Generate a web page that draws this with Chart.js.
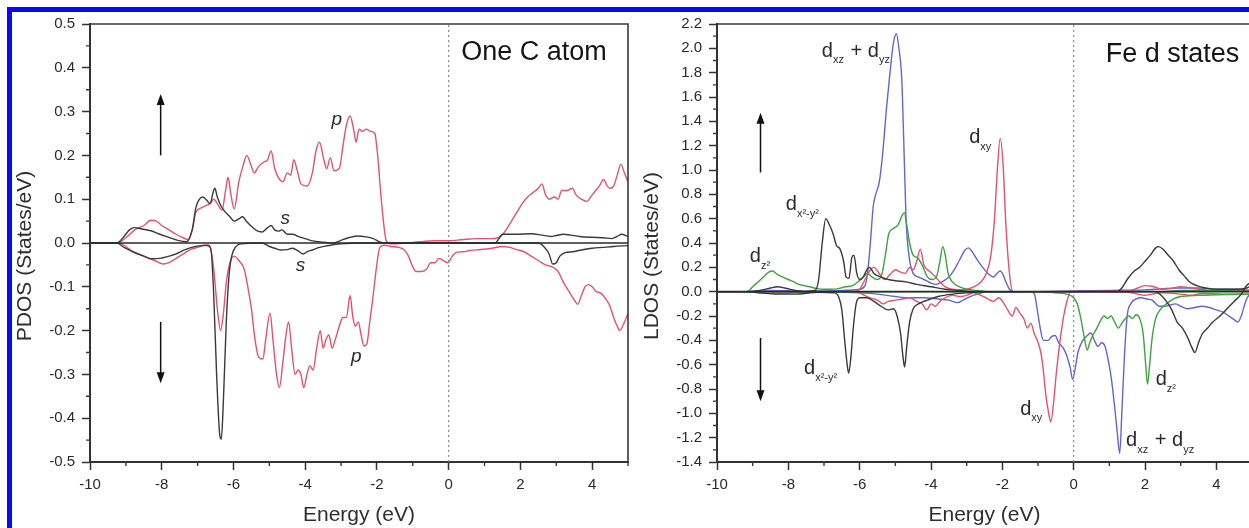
<!DOCTYPE html>
<html>
<head>
<meta charset="utf-8">
<script src="https://cdn.jsdelivr.net/npm/chart.js@4.4.1/dist/chart.umd.min.js"></script>
<style>
  html, body { margin: 0; padding: 0; background: #fff; overflow: hidden; }
  #page { position: relative; width: 1249px; height: 528px; overflow: hidden; background: #fff; }
  #frame { position: absolute; left: 7px; top: 7px; width: 1400px; height: 700px;
           border-left: 5px solid #0a0af0; border-top: 5px solid #0a0af0; }
  canvas { position: absolute; top: 0; }
  #pdosChart { left: 0; }
  #ldosChart { left: 620px; }
</style>
</head>
<body>
<div id="page">
  <div id="frame"></div>
  <canvas id="pdosChart" width="640" height="528"></canvas>
  <canvas id="ldosChart" width="640" height="528"></canvas>
</div>
<script>
'use strict';

// --- axis ticks ---
const energyTicks = [-10, -8, -6, -4, -2, 0, 2, 4];
const energyMinor = [-9, -7, -5, -3, -1, 1, 3, 5];
const pdosTicks = [-0.5, -0.4, -0.3, -0.2, -0.1, 0, 0.1, 0.2, 0.3, 0.4, 0.5];
const pdosMinor = [-0.45, -0.35, -0.25, -0.15, -0.05, 0.05, 0.15, 0.25, 0.35, 0.45];
const ldosTicks = [-1.4, -1.2, -1.0, -0.8, -0.6, -0.4, -0.2, 0, 0.2, 0.4, 0.6, 0.8, 1.0, 1.2, 1.4, 1.6, 1.8, 2.0, 2.2];
const ldosMinor = [-1.3, -1.1, -0.9, -0.7, -0.5, -0.3, -0.1, 0.1, 0.3, 0.5, 0.7, 0.9, 1.1, 1.3, 1.5, 1.7, 1.9, 2.1];

// --- C atom PDOS, [energy, states/eV] ---
const pUp = [[-10,0],[-9.25,0],[-9.0,0.012],[-8.75,0.03],[-8.5,0.04],[-8.3,0.052],[-8.15,0.05],[-8.0,0.04],[-7.8,0.03],[-7.6,0.02],[-7.4,0.012],[-7.28,0.008],[-7.15,0.03],[-7.05,0.07],[-6.9,0.08],[-6.78,0.085],[-6.65,0.09],[-6.55,0.1],[-6.45,0.09],[-6.32,0.075],[-6.22,0.12],[-6.15,0.15],[-6.07,0.11],[-5.98,0.078],[-5.85,0.14],[-5.72,0.18],[-5.63,0.2],[-5.52,0.18],[-5.42,0.16],[-5.3,0.175],[-5.15,0.185],[-5.05,0.19],[-4.95,0.21],[-4.85,0.17],[-4.75,0.15],[-4.62,0.14],[-4.5,0.16],[-4.4,0.155],[-4.32,0.19],[-4.22,0.165],[-4.12,0.135],[-3.95,0.13],[-3.8,0.16],[-3.7,0.21],[-3.6,0.23],[-3.48,0.19],[-3.4,0.17],[-3.3,0.195],[-3.2,0.165],[-3.05,0.17],[-2.95,0.22],[-2.85,0.27],[-2.75,0.29],[-2.65,0.26],[-2.58,0.23],[-2.5,0.26],[-2.4,0.255],[-2.3,0.26],[-2.18,0.255],[-2.06,0.25],[-1.98,0.2],[-1.9,0.12],[-1.82,0.05],[-1.74,0.005],[-1.6,-0.002],[-1.2,0.0],[-0.8,0.003],[-0.4,0.005],[0,0.005],[0.4,0.008],[0.8,0.01],[1.2,0.01],[1.45,0.015],[1.6,0.03],[1.75,0.05],[1.9,0.07],[2.05,0.09],[2.2,0.105],[2.35,0.115],[2.5,0.125],[2.6,0.135],[2.7,0.11],[2.8,0.1],[2.95,0.105],[3.05,0.1],[3.15,0.12],[3.3,0.12],[3.45,0.125],[3.55,0.11],[3.7,0.1],[3.85,0.095],[4.0,0.11],[4.1,0.12],[4.2,0.13],[4.32,0.145],[4.42,0.13],[4.5,0.125],[4.6,0.13],[4.7,0.155],[4.8,0.18],[4.9,0.16],[5.0,0.14]];
const pDown = [[-10,0],[-9.2,0],[-9.0,-0.008],[-8.8,-0.02],[-8.5,-0.03],[-8.2,-0.04],[-7.95,-0.048],[-7.8,-0.045],[-7.6,-0.035],[-7.4,-0.025],[-7.2,-0.015],[-7.0,-0.01],[-6.8,-0.005],[-6.65,-0.01],[-6.55,-0.06],[-6.45,-0.15],[-6.36,-0.2],[-6.28,-0.16],[-6.2,-0.09],[-6.1,-0.045],[-5.98,-0.03],[-5.85,-0.04],[-5.7,-0.06],[-5.6,-0.1],[-5.5,-0.15],[-5.4,-0.22],[-5.3,-0.26],[-5.18,-0.265],[-5.1,-0.22],[-4.98,-0.16],[-4.9,-0.22],[-4.8,-0.3],[-4.72,-0.33],[-4.62,-0.27],[-4.52,-0.2],[-4.46,-0.18],[-4.38,-0.24],[-4.28,-0.3],[-4.2,-0.29],[-4.12,-0.3],[-4.04,-0.33],[-3.95,-0.3],[-3.87,-0.28],[-3.78,-0.29],[-3.68,-0.24],[-3.58,-0.2],[-3.5,-0.24],[-3.42,-0.22],[-3.34,-0.21],[-3.25,-0.24],[-3.16,-0.22],[-3.05,-0.19],[-2.95,-0.17],[-2.85,-0.17],[-2.75,-0.12],[-2.67,-0.17],[-2.6,-0.19],[-2.52,-0.18],[-2.44,-0.21],[-2.36,-0.235],[-2.28,-0.23],[-2.2,-0.18],[-2.12,-0.13],[-2.02,-0.06],[-1.92,-0.01],[-1.8,-0.005],[-1.6,-0.008],[-1.4,-0.01],[-1.25,-0.015],[-1.12,-0.03],[-1.0,-0.055],[-0.9,-0.065],[-0.75,-0.065],[-0.62,-0.06],[-0.5,-0.045],[-0.38,-0.045],[-0.28,-0.035],[-0.15,-0.04],[-0.03,-0.045],[0.1,-0.03],[0.2,-0.022],[0.4,-0.02],[0.6,-0.017],[0.9,-0.015],[1.2,-0.012],[1.5,-0.008],[1.7,-0.01],[1.9,-0.015],[2.1,-0.02],[2.3,-0.03],[2.5,-0.04],[2.7,-0.05],[2.9,-0.055],[3.05,-0.065],[3.2,-0.09],[3.35,-0.11],[3.5,-0.13],[3.6,-0.14],[3.7,-0.12],[3.8,-0.1],[3.9,-0.095],[4.0,-0.1],[4.1,-0.11],[4.25,-0.115],[4.4,-0.13],[4.5,-0.145],[4.6,-0.17],[4.7,-0.19],[4.77,-0.2],[4.85,-0.19],[4.93,-0.175],[5.0,-0.16]];
const sUp = [[-10,0],[-9.25,0],[-9.05,0.015],[-8.9,0.03],[-8.75,0.035],[-8.55,0.032],[-8.3,0.028],[-8.05,0.02],[-7.8,0.013],[-7.55,0.006],[-7.3,0.003],[-7.15,0.03],[-7.05,0.08],[-6.95,0.1],[-6.85,0.105],[-6.75,0.098],[-6.65,0.09],[-6.57,0.115],[-6.52,0.125],[-6.45,0.105],[-6.35,0.085],[-6.22,0.07],[-6.1,0.06],[-5.98,0.05],[-5.85,0.055],[-5.75,0.06],[-5.62,0.048],[-5.5,0.038],[-5.35,0.028],[-5.2,0.025],[-5.05,0.035],[-4.95,0.04],[-4.85,0.03],[-4.75,0.027],[-4.65,0.03],[-4.5,0.02],[-4.35,0.02],[-4.2,0.015],[-4.0,0.01],[-3.8,0.005],[-3.5,0.002],[-3.2,0.0],[-3.0,0.006],[-2.8,0.012],[-2.55,0.016],[-2.3,0.014],[-2.1,0.01],[-1.9,0.002],[-1.7,0.0],[1.3,0.0],[1.4,0.01],[1.5,0.02],[1.9,0.02],[2.3,0.021],[2.6,0.018],[2.85,0.015],[3.0,0.017],[3.2,0.02],[3.4,0.018],[3.65,0.015],[4.0,0.013],[4.3,0.012],[4.55,0.01],[4.7,0.015],[4.82,0.02],[5.0,0.015]];
const sDown = [[-10,0],[-9.25,0],[-9.05,-0.01],[-8.8,-0.02],[-8.5,-0.03],[-8.3,-0.036],[-8.05,-0.035],[-7.8,-0.03],[-7.6,-0.025],[-7.4,-0.017],[-7.17,-0.01],[-6.9,-0.006],[-6.7,-0.005],[-6.62,-0.02],[-6.55,-0.12],[-6.47,-0.3],[-6.38,-0.44],[-6.34,-0.448],[-6.29,-0.38],[-6.2,-0.18],[-6.12,-0.07],[-6.05,-0.03],[-5.95,-0.01],[-5.8,-0.002],[-5.2,0.0],[-5.0,-0.008],[-4.85,-0.012],[-4.7,-0.016],[-4.5,-0.015],[-4.35,-0.012],[-4.2,-0.018],[-4.05,-0.025],[-3.95,-0.02],[-3.8,-0.016],[-3.6,-0.01],[-3.3,-0.005],[-3.0,-0.002],[-2.5,0],[2.5,0.0],[2.65,-0.008],[2.8,-0.025],[2.9,-0.048],[3.0,-0.045],[3.1,-0.03],[3.25,-0.022],[3.45,-0.02],[3.7,-0.016],[4.0,-0.012],[4.3,-0.01],[4.6,-0.008],[5.0,-0.006]];

// --- Fe d LDOS, [energy, states/eV] ---
const dxzUp = [[-10,0],[-9.2,0],[-8.5,0.01],[-7.5,0.005],[-6.5,0.01],[-6.0,0.02],[-5.85,0.05],[-5.78,0.15],[-5.7,0.4],[-5.62,0.7],[-5.55,0.8],[-5.45,0.9],[-5.35,1.15],[-5.25,1.5],[-5.15,1.8],[-5.05,2.05],[-4.97,2.12],[-4.9,2.0],[-4.82,1.75],[-4.76,1.2],[-4.7,0.6],[-4.62,0.3],[-4.5,0.15],[-4.35,0.12],[-4.2,0.1],[-4.0,0.07],[-3.85,0.06],[-3.7,0.08],[-3.5,0.12],[-3.35,0.18],[-3.2,0.26],[-3.05,0.34],[-2.95,0.36],[-2.85,0.33],[-2.7,0.26],[-2.55,0.2],[-2.4,0.15],[-2.25,0.12],[-2.15,0.15],[-2.06,0.17],[-1.98,0.14],[-1.9,0.08],[-1.8,0.02],[-1.7,0.0],[-1.0,0.0],[0,0.005],[1.0,0.01],[2.0,0.015],[3.0,0.03],[3.5,0.03],[4.0,0.02],[4.5,0.02],[5.0,0.01]];
const dxzDown = [[-10,0],[-8,0],[-6.5,-0.005],[-6.0,-0.01],[-5.5,-0.02],[-5.0,-0.04],[-4.6,-0.05],[-4.2,-0.05],[-3.8,-0.06],[-3.5,-0.07],[-3.25,-0.09],[-3.1,-0.07],[-2.9,-0.04],[-2.7,-0.02],[-2.5,-0.005],[-1.2,0],[-1.1,-0.02],[-1.02,-0.15],[-0.95,-0.28],[-0.85,-0.4],[-0.72,-0.4],[-0.62,-0.37],[-0.52,-0.36],[-0.42,-0.42],[-0.3,-0.46],[-0.2,-0.52],[-0.1,-0.62],[-0.03,-0.72],[0.05,-0.62],[0.12,-0.5],[0.22,-0.42],[0.35,-0.37],[0.48,-0.34],[0.58,-0.4],[0.68,-0.45],[0.78,-0.42],[0.88,-0.45],[0.96,-0.55],[1.05,-0.7],[1.15,-0.95],[1.22,-1.15],[1.29,-1.33],[1.35,-1.0],[1.42,-0.55],[1.5,-0.2],[1.6,-0.1],[1.75,-0.06],[1.9,-0.05],[2.05,-0.06],[2.2,-0.07],[2.4,-0.12],[2.55,-0.12],[2.7,-0.11],[2.85,-0.1],[3.0,-0.12],[3.2,-0.14],[3.4,-0.13],[3.6,-0.12],[3.8,-0.13],[4.0,-0.15],[4.2,-0.17],[4.35,-0.2],[4.5,-0.23],[4.6,-0.25],[4.7,-0.2],[4.78,-0.12],[4.85,-0.06],[5.0,0.0]];
const dxyUp = [[-10,0],[-6.2,0],[-6.0,0.02],[-5.85,0.1],[-5.7,0.18],[-5.6,0.2],[-5.45,0.15],[-5.3,0.1],[-5.15,0.14],[-5.0,0.18],[-4.85,0.16],[-4.72,0.15],[-4.6,0.2],[-4.5,0.18],[-4.4,0.25],[-4.3,0.35],[-4.2,0.22],[-4.05,0.17],[-3.9,0.13],[-3.75,0.08],[-3.6,0.04],[-3.4,0.02],[-3.2,0.015],[-3.0,0.02],[-2.8,0.04],[-2.6,0.08],[-2.45,0.15],[-2.32,0.3],[-2.22,0.6],[-2.14,1.0],[-2.06,1.26],[-1.98,1.05],[-1.9,0.55],[-1.8,0.15],[-1.7,0.0],[-1.0,0],[1.5,0.005],[1.8,0.03],[2.0,0.05],[2.2,0.045],[2.5,0.02],[2.8,0.03],[3.0,0.04],[3.2,0.035],[3.5,0.02],[4.0,0.01],[5.0,0.01]];
const dxyDown = [[-10,0],[-6.2,0],[-6.0,-0.01],[-5.8,-0.04],[-5.6,-0.06],[-5.45,-0.08],[-5.35,-0.1],[-5.2,-0.08],[-5.0,-0.07],[-4.8,-0.06],[-4.6,-0.05],[-4.4,-0.08],[-4.25,-0.1],[-4.12,-0.15],[-4.0,-0.1],[-3.88,-0.12],[-3.75,-0.08],[-3.6,-0.05],[-3.4,-0.03],[-3.2,-0.04],[-3.0,-0.03],[-2.8,-0.01],[-2.6,-0.03],[-2.4,-0.06],[-2.25,-0.08],[-2.1,-0.05],[-1.95,-0.1],[-1.85,-0.15],[-1.72,-0.2],[-1.62,-0.13],[-1.5,-0.18],[-1.4,-0.22],[-1.3,-0.3],[-1.2,-0.26],[-1.1,-0.35],[-1.02,-0.4],[-0.92,-0.5],[-0.85,-0.65],[-0.78,-0.85],[-0.7,-1.0],[-0.64,-1.07],[-0.56,-0.9],[-0.48,-0.65],[-0.38,-0.4],[-0.28,-0.2],[-0.18,-0.07],[-0.08,0],[0.5,0],[1.5,-0.005],[1.8,-0.02],[2.0,-0.03],[2.2,-0.02],[2.5,-0.01],[3.0,-0.02],[3.3,-0.03],[3.6,-0.015],[4.2,-0.02],[5.0,-0.02]];
const dz2Up = [[-10,0],[-9.15,0],[-9.0,0.04],[-8.85,0.08],[-8.7,0.12],[-8.55,0.16],[-8.45,0.17],[-8.3,0.14],[-8.15,0.12],[-8.0,0.1],[-7.85,0.08],[-7.7,0.06],[-7.55,0.05],[-7.4,0.04],[-7.2,0.025],[-7.0,0.02],[-6.8,0.02],[-6.6,0.025],[-6.4,0.04],[-6.2,0.05],[-6.05,0.08],[-5.9,0.12],[-5.78,0.15],[-5.65,0.12],[-5.5,0.1],[-5.38,0.14],[-5.28,0.3],[-5.18,0.48],[-5.05,0.52],[-4.92,0.55],[-4.82,0.62],[-4.75,0.65],[-4.68,0.55],[-4.6,0.4],[-4.5,0.3],[-4.38,0.28],[-4.25,0.22],[-4.1,0.12],[-3.95,0.1],[-3.85,0.12],[-3.75,0.25],[-3.67,0.37],[-3.6,0.3],[-3.52,0.15],[-3.4,0.08],[-3.2,0.04],[-3.0,0.02],[-2.7,0.01],[-2.4,0],[2.5,0],[3.0,0.01],[4.0,0.01],[5.0,0.0]];
const dz2Down = [[-10,0],[-9.2,0],[-8.8,-0.01],[-8.3,-0.015],[-7.8,-0.01],[-7.0,-0.005],[-6.0,-0.003],[-4.0,0],[-1.0,0],[-0.5,-0.01],[-0.2,-0.02],[0,-0.05],[0.1,-0.1],[0.2,-0.22],[0.3,-0.38],[0.38,-0.48],[0.45,-0.42],[0.55,-0.35],[0.65,-0.3],[0.75,-0.24],[0.85,-0.2],[0.95,-0.22],[1.05,-0.2],[1.15,-0.25],[1.25,-0.3],[1.35,-0.26],[1.45,-0.22],[1.55,-0.2],[1.65,-0.22],[1.75,-0.19],[1.85,-0.22],[1.95,-0.35],[2.02,-0.6],[2.07,-0.76],[2.13,-0.6],[2.2,-0.38],[2.3,-0.22],[2.45,-0.14],[2.6,-0.1],[2.8,-0.06],[3.0,-0.04],[3.5,-0.03],[4.0,-0.025],[5.0,-0.02]];
const dx2Up = [[-10,0],[-9.2,0],[-8.8,0.01],[-8.5,0.03],[-8.3,0.04],[-8.1,0.03],[-7.8,0.01],[-7.5,0.0],[-7.25,0.01],[-7.15,0.1],[-7.05,0.4],[-6.95,0.6],[-6.85,0.55],[-6.75,0.48],[-6.65,0.38],[-6.55,0.35],[-6.45,0.25],[-6.38,0.12],[-6.3,0.11],[-6.22,0.28],[-6.16,0.3],[-6.08,0.15],[-6.0,0.1],[-5.9,0.12],[-5.8,0.18],[-5.72,0.2],[-5.6,0.15],[-5.4,0.12],[-5.2,0.1],[-5.0,0.09],[-4.7,0.08],[-4.4,0.06],[-4.0,0.04],[-3.6,0.02],[-3.2,0.01],[-2.8,0.0],[1.2,0.0],[1.35,0.03],[1.5,0.1],[1.7,0.17],[1.85,0.2],[2.0,0.25],[2.15,0.3],[2.3,0.36],[2.38,0.37],[2.5,0.35],[2.65,0.3],[2.8,0.25],[2.95,0.18],[3.1,0.13],[3.25,0.08],[3.45,0.05],[3.7,0.03],[4.0,0.02],[4.5,0.02],[4.85,0.03],[5.0,0.05]];
const dx2Down = [[-10,0],[-9.2,0],[-8.8,-0.01],[-8.3,-0.02],[-7.8,-0.02],[-7.2,-0.005],[-6.7,-0.01],[-6.58,-0.05],[-6.5,-0.15],[-6.42,-0.4],[-6.35,-0.6],[-6.31,-0.67],[-6.25,-0.55],[-6.18,-0.3],[-6.1,-0.1],[-6.0,-0.05],[-5.8,-0.05],[-5.6,-0.08],[-5.4,-0.12],[-5.2,-0.15],[-5.05,-0.14],[-4.95,-0.2],[-4.85,-0.35],[-4.78,-0.55],[-4.74,-0.62],[-4.68,-0.45],[-4.6,-0.25],[-4.5,-0.14],[-4.35,-0.1],[-4.1,-0.07],[-3.8,-0.04],[-3.4,-0.02],[-3.0,-0.01],[-2.5,0],[2.3,0],[2.45,-0.03],[2.6,-0.08],[2.75,-0.15],[2.9,-0.25],[3.05,-0.3],[3.2,-0.38],[3.3,-0.45],[3.4,-0.5],[3.5,-0.42],[3.6,-0.35],[3.75,-0.3],[3.9,-0.25],[4.1,-0.2],[4.3,-0.14],[4.5,-0.08],[4.7,-0.02],[4.85,0.05],[5.0,0.08]];

const RED = '#e8506e';
const DARK = '#3a3a3a';
const BLUE = '#6464d6';
const GREEN = '#38a638';
const FONT = '"Liberation Sans", Arial, sans-serif';

function line(points, color) {
    return {
        data: points.map(([x, y]) => ({ x, y })),
        borderColor: color,
        borderWidth: 1.4,
        pointRadius: 0,
        cubicInterpolationMode: 'monotone'
    };
}

function guides(yMin, yMax) {
    // zero line and dotted Fermi level
    return [
        { data: [{ x: -10, y: 0 }, { x: 5, y: 0 }], borderColor: '#2a2a2a', borderWidth: 1.6, pointRadius: 0 },
        { data: [{ x: 0, y: yMin }, { x: 0, y: yMax }], borderColor: '#8a8a8a', borderWidth: 1.2, borderDash: [2, 3], pointRadius: 0 }
    ];
}

// subscripted text: parts = [[text, isSub], ...]
function drawRich(ctx, x, y, parts, size, italic) {
    parts.forEach(([t, sub]) => {
        const s = sub ? Math.round(size * 0.55) : size;
        ctx.font = (italic ? 'italic ' : '') + s + 'px ' + FONT;
        ctx.fillText(t, x, y + (sub ? size * 0.32 : 0));
        x += ctx.measureText(t).width + (sub ? 1 : 0);
    });
}

const decorations = {
    id: 'decorations',
    afterDraw(chart, args, o) {
        const { ctx, chartArea: a, scales: { x, y } } = chart;
        ctx.save();

        // box on top and right
        ctx.strokeStyle = '#3a3a3a';
        ctx.lineWidth = 1.6;
        ctx.beginPath();
        ctx.moveTo(a.left, a.top);
        ctx.lineTo(a.right, a.top);
        ctx.lineTo(a.right, a.bottom);
        ctx.stroke();

        // minor ticks
        ctx.lineWidth = 1.4;
        ctx.beginPath();
        o.minorX.forEach(v => {
            const px = x.getPixelForValue(v);
            ctx.moveTo(px, a.bottom);
            ctx.lineTo(px, a.bottom + 4);
        });
        o.minorY.forEach(v => {
            const py = y.getPixelForValue(v);
            ctx.moveTo(a.left, py);
            ctx.lineTo(a.left - 4, py);
        });
        ctx.stroke();

        // spin arrows
        ctx.strokeStyle = '#111';
        ctx.fillStyle = '#111';
        ctx.lineWidth = 1.5;
        o.arrows.forEach(([e, from, to]) => {
            const px = x.getPixelForValue(e);
            const p0 = y.getPixelForValue(from);
            const p1 = y.getPixelForValue(to);
            const dir = p1 < p0 ? -1 : 1;
            ctx.beginPath();
            ctx.moveTo(px, p0);
            ctx.lineTo(px, p1 - dir * 8);
            ctx.stroke();
            ctx.beginPath();
            ctx.moveTo(px, p1);
            ctx.lineTo(px - 4, p1 - dir * 11);
            ctx.lineTo(px + 4, p1 - dir * 11);
            ctx.closePath();
            ctx.fill();
        });

        // curve labels
        ctx.fillStyle = '#2a2a2a';
        ctx.textBaseline = 'alphabetic';
        ctx.textAlign = 'left';
        o.labels.forEach(([e, v, parts]) => {
            drawRich(ctx, x.getPixelForValue(e), y.getPixelForValue(v), parts, o.labelSize, o.italic);
        });

        // panel caption
        ctx.fillStyle = '#151515';
        ctx.font = '27px ' + FONT;
        ctx.fillText(o.caption[2], x.getPixelForValue(o.caption[0]), y.getPixelForValue(o.caption[1]));

        // vertical axis title
        ctx.fillStyle = '#2e2e2e';
        ctx.font = '21px ' + FONT;
        ctx.textAlign = 'center';
        ctx.textBaseline = 'middle';
        ctx.translate(a.left - 65, (a.top + a.bottom) / 2 + 13);
        ctx.rotate(-Math.PI / 2);
        ctx.fillText(o.yTitle, 0, 0);

        ctx.restore();
    }
};

function panel(canvasId, datasets, yMin, yMax, yTicks, yWidth, padRight, deco) {
    return new Chart(document.getElementById(canvasId), {
        type: 'line',
        data: { datasets: guides(yMin, yMax).concat(datasets) },
        options: {
            responsive: false,
            animation: false,
            layout: { padding: { top: 24, right: padRight, bottom: 0, left: 0 } },
            plugins: { legend: { display: false }, tooltip: { enabled: false }, decorations: deco },
            scales: {
                x: {
                    type: 'linear', min: -10, max: 5,
                    afterBuildTicks: s => { s.ticks = energyTicks.map(v => ({ value: v })); },
                    afterFit: s => { s.height = 66; },
                    grid: { drawOnChartArea: false, tickLength: 8, tickColor: '#333', tickWidth: 1.5 },
                    border: { color: '#333', width: 2 },
                    ticks: { color: '#2a2a2a', font: { size: 15, family: FONT }, padding: 6, maxRotation: 0, callback: v => String(v) },
                    title: { display: true, text: 'Energy (eV)', color: '#2e2e2e', font: { size: 21, family: FONT }, padding: { top: 0, bottom: 0 } }
                },
                y: {
                    type: 'linear', min: yMin, max: yMax,
                    afterBuildTicks: s => { s.ticks = yTicks.map(v => ({ value: v })); },
                    afterFit: s => { s.width = yWidth; },
                    grid: { drawOnChartArea: false, tickLength: 8, tickColor: '#333', tickWidth: 1.5 },
                    border: { color: '#333', width: 2 },
                    ticks: { color: '#2a2a2a', font: { size: 15, family: FONT }, padding: 7, callback: v => v.toFixed(1) }
                }
            }
        },
        plugins: [decorations]
    });
}

document.addEventListener('DOMContentLoaded', function() {

    // --- One C atom ---
    panel('pdosChart', [
        line(sDown, DARK), line(sUp, DARK), line(pDown, RED), line(pUp, RED)
    ], -0.5, 0.5, pdosTicks, 90, 12, {
        minorX: energyMinor, minorY: pdosMinor,
        arrows: [[-8.03, 0.2, 0.34], [-8.03, -0.18, -0.32]],
        labels: [
            [-3.27, 0.27, [['p']]],
            [-4.69, 0.044, [['s']]],
            [-4.26, -0.064, [['s']]],
            [-2.72, -0.272, [['p']]]
        ],
        labelSize: 19, italic: true,
        caption: [0.35, 0.417, 'One C atom'],
        yTitle: 'PDOS (States/eV)'
    });

    // --- Fe d states ---
    panel('ldosChart', [
        line(dx2Down, DARK), line(dx2Up, DARK),
        line(dz2Down, GREEN), line(dz2Up, GREEN),
        line(dxyDown, RED), line(dxyUp, RED),
        line(dxzDown, BLUE), line(dxzUp, BLUE)
    ], -1.4, 2.2, ldosTicks, 97, 8, {
        minorX: energyMinor, minorY: ldosMinor,
        arrows: [[-8.78, 0.98, 1.47], [-8.78, -0.38, -0.9]],
        labels: [
            [-7.06, 1.93, [['d'], ['xz', 1], [' + d'], ['yz', 1]]],
            [-2.93, 1.22, [['d'], ['xy', 1]]],
            [-8.07, 0.67, [['d'], ['x\u00b2-y\u00b2', 1]]],
            [-9.08, 0.24, [['d'], ['z\u00b2', 1]]],
            [-7.56, -0.68, [['d'], ['x\u00b2-y\u00b2', 1]]],
            [-1.5, -1.01, [['d'], ['xy', 1]]],
            [1.47, -1.27, [['d'], ['xz', 1], [' + d'], ['yz', 1]]],
            [2.3, -0.77, [['d'], ['z\u00b2', 1]]]
        ],
        labelSize: 20, italic: false,
        caption: [0.9, 1.886, 'Fe d states'],
        yTitle: 'LDOS (States/eV)'
    });
});
</script>
</body>
</html>
